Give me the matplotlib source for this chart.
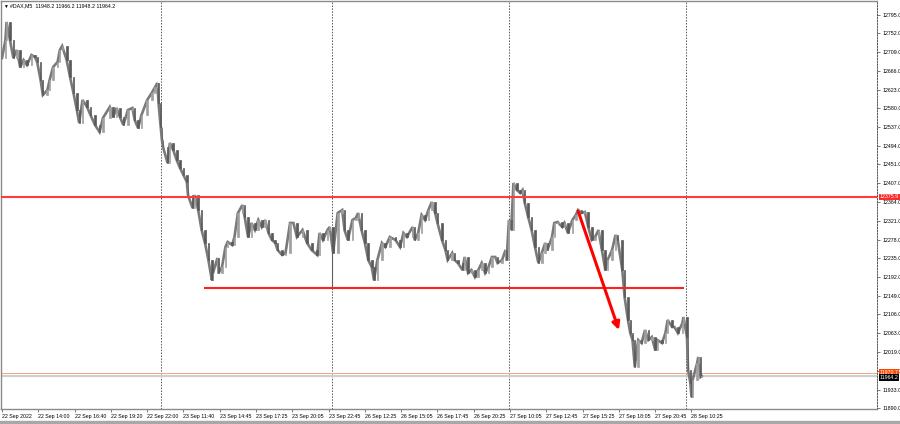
import numpy as np
import matplotlib.pyplot as plt

# M5 bars (bar number from the first bar, price)
sample_bar = [
    0, 3, 4, 7, 10, 13, 16, 19, 22, 26, 29, 31, 34, 36, 40, 42, 45, 49, 51, 53,
    57, 60, 63, 66, 68, 71, 75, 78, 82, 86, 89, 95, 98, 101, 104, 107, 111, 115, 117, 120,
    123, 128, 132, 135, 137, 138, 140, 141, 142, 146, 148, 151, 154, 157, 160, 163, 164, 168, 170, 173,
    176, 179, 182, 185, 186, 190, 191, 194, 197, 199, 203, 205, 208, 212, 214, 217, 220, 223, 226, 229,
    232, 235, 238, 241, 243, 247, 250, 254, 257, 260, 265, 269, 273, 278, 280, 283, 287, 289, 292, 296,
    300, 302, 305, 309, 312, 314, 317, 320, 323, 326, 328, 331, 335, 338, 342, 347, 351, 354, 357, 362,
    364, 367, 370, 373, 376, 379, 382, 384, 388, 391, 393, 397, 399, 402, 406, 408, 411, 414, 417, 420,
    423, 426, 429, 432, 435, 437, 441, 444, 445, 447, 449, 451, 454, 457, 459, 461, 464, 467, 470, 473,
    476, 479, 481, 485, 487, 490, 494, 496, 499, 503, 506, 508, 511, 514, 517, 520, 523, 526, 529, 532,
    534, 538, 541, 543, 547, 549, 552, 554, 556, 558, 561, 564, 567, 570, 573, 576, 578, 582, 585, 587,
    591, 593, 596, 600, 601, 604, 605, 607, 608, 609, 613, 614, 616, 617,
]
sample_price = [
    12695.4, 12736.8, 12778.2, 12736.8, 12695.4, 12713.8, 12674.7, 12690.8, 12679.3, 12702.3,
    12697.7, 12686.2, 12644.9, 12610.4, 12621.9, 12644.9, 12674.7, 12686.2, 12713.8, 12723.0,
    12690.8, 12651.8, 12615.0, 12575.9, 12546.0, 12598.9, 12582.8, 12564.4, 12541.4, 12525.3,
    12557.5, 12582.8, 12559.8, 12580.5, 12559.8, 12541.4, 12575.9, 12580.5, 12552.9, 12534.5,
    12564.4, 12598.9, 12615.0, 12628.8, 12638.0, 12592.0, 12536.8, 12506.9, 12490.8, 12454.0,
    12500.0, 12483.9, 12460.9, 12442.5, 12426.4, 12410.3, 12380.4, 12350.5, 12380.4, 12345.9,
    12300.0, 12270.1, 12231.0, 12185.0, 12201.1, 12235.6, 12201.1, 12214.9, 12260.9, 12272.4,
    12265.5, 12283.9, 12339.0, 12357.4, 12329.9, 12283.9, 12316.1, 12300.0, 12323.0, 12306.9,
    12323.0, 12293.1, 12277.0, 12270.1, 12254.0, 12242.5, 12247.1, 12316.1, 12316.1, 12283.9,
    12300.0, 12270.1, 12254.0, 12242.5, 12293.1, 12277.0, 12300.0, 12306.9, 12247.1, 12339.0,
    12345.9, 12300.0, 12277.0, 12323.0, 12327.6, 12339.0, 12300.0, 12270.1, 12231.0, 12214.9,
    12185.0, 12231.0, 12270.1, 12260.9, 12283.9, 12277.0, 12260.9, 12293.1, 12283.9, 12306.9,
    12277.0, 12293.1, 12334.5, 12323.0, 12345.9, 12364.3, 12339.0, 12316.1, 12277.0, 12254.0,
    12231.0, 12247.1, 12231.0, 12224.1, 12208.0, 12237.9, 12201.1, 12208.0, 12191.9, 12208.0,
    12224.1, 12201.1, 12214.9, 12237.9, 12237.9, 12224.1, 12231.0, 12254.0, 12231.0, 12323.0,
    12300.0, 12408.0, 12391.9, 12385.0, 12391.9, 12362.0, 12329.8, 12300.0, 12260.9, 12224.1,
    12247.1, 12270.1, 12254.0, 12283.9, 12316.1, 12318.4, 12306.9, 12316.1, 12293.1, 12323.0,
    12334.5, 12345.9, 12339.0, 12341.3, 12306.9, 12277.0, 12283.9, 12300.0, 12254.0, 12208.0,
    12231.0, 12254.0, 12288.5, 12277.0, 12208.0, 12145.9, 12093.0, 12063.1, 12047.0, 11985.0,
    12047.0, 12040.1, 12070.0, 12047.0, 12053.9, 12024.0, 12047.0, 12040.1, 12063.1, 12093.0,
    12076.9, 12076.9, 12063.1, 12086.1, 12099.9, 12053.9, 11978.1, 11948.2, 11916.0, 11955.1,
    11994.2, 12007.9, 11962.0, 11964.2,
]

# long wick at the 26 Sep open
wick_bar = [291]
wick_low = [12168.9]
wick_high = [12306.9]

# time axis labels, one every 32 bars
time_labels = ['22 Sep 2022', '22 Sep 14:00', '22 Sep 16:40', '22 Sep 19:20', '22 Sep 22:00',
               '23 Sep 11:40', '23 Sep 14:45', '23 Sep 17:25', '23 Sep 20:05', '23 Sep 22:45',
               '26 Sep 12:25', '26 Sep 15:05', '26 Sep 17:45', '26 Sep 20:25', '27 Sep 10:05',
               '27 Sep 12:45', '27 Sep 15:25', '27 Sep 18:05', '27 Sep 20:45', '28 Sep 10:25']
day_start_bars = [140, 291, 447, 603]

price_ticks = [12795, 12752, 12709, 12666, 12623, 12580, 12537, 12494, 12451, 12407, 12364,
               12321, 12278, 12235, 12192, 12149, 12106, 12063, 12019, 11976, 11933, 11890]

resistance = 12375.9
support = 12166.6
support_from, support_to = 178, 601
arrow_start = (508, 12343.6)
arrow_end = (544, 12070.0)
bid = 11964.2
ask = 11970.7
header = '#DAX,M5  11948.2 11966.2 11948.2 11964.2'

plt.rcParams['font.family'] = ['Liberation Sans', 'DejaVu Sans']

fig = plt.figure(figsize=(9, 4.24), dpi=100)
ax = fig.add_axes([1 / 900, 15 / 424, 876 / 900, 408 / 424])
ax.set_xlim(-0.9, 771.6)
ax.set_ylim(11888.4, 12826.5)

# price trace: thick line plus narrow candle bodies between readings
bars = np.array(sample_bar, dtype=float)
prices = np.array(sample_price)
prev = prices[:-1]
step = np.diff(prices)
widths = np.minimum(np.diff(bars) * 0.5, 1.6)
colors = np.where(step >= 0, '#a0a0a0', '#5a5a5a')
ax.plot(bars, prices, color='#7a7a7a', lw=1.9, solid_joinstyle='miter', zorder=3)
ax.bar(bars[1:], step, bottom=prev, width=widths, color=colors,
       edgecolor=colors, linewidth=0.5, zorder=3)
ax.vlines(wick_bar, wick_low, wick_high, color='#5e5e5e', lw=0.8, zorder=3)

# day separators
for b in day_start_bars:
    ax.axvline(b, color='#555555', lw=0.7, ls=(0, (1.5, 1.5)), zorder=1)

# bid / ask lines
ax.axhline(bid, color='#cfcfcf', lw=1.6, zorder=1)
ax.axhline(ask, color='#f4a582', lw=0.7, zorder=1)

# levels and arrow
ax.axhline(resistance, color='#ff3b3b', lw=1.5, zorder=4)
ax.hlines(support, support_from, support_to, color='#ff2020', lw=1.5, zorder=4)
ax.annotate('', xy=arrow_end, xytext=arrow_start,
            arrowprops=dict(arrowstyle='-|>', color='#ff0000', lw=2.2,
                            mutation_scale=11, shrinkA=0, shrinkB=0), zorder=5)

# axes
ax.set_xticks(np.arange(len(time_labels)) * 32)
ax.set_xticklabels(time_labels, ha='left', fontsize=3.8)
ax.set_yticks(price_ticks)
ax.set_yticklabels(['%.1f' % p for p in price_ticks], fontsize=3.8)
ax.yaxis.tick_right()
ax.tick_params(axis='x', length=2.5, width=0.5, pad=1, color='#444444')
ax.tick_params(axis='y', length=2.5, width=0.5, pad=1.5, color='#444444')
for s in ['left', 'top', 'bottom']:
    ax.spines[s].set_color('#8a8a8a')
    ax.spines[s].set_linewidth(1.0)
ax.spines['right'].set_color('#555555')
ax.spines['right'].set_linewidth(0.7)
ax.spines['right'].set_linestyle((0, (1.5, 1.5)))

# price boxes on the right scale
box_kw = dict(fontsize=3.8, ha='left', va='center', clip_on=False, zorder=6)
ax.text(1.003, resistance, '%.1f' % resistance, color='white', transform=ax.get_yaxis_transform(),
        bbox=dict(boxstyle='square,pad=0.15', fc='#ff2a2a', ec='none'), **box_kw)
ax.text(1.003, ask + 2, '%.1f' % ask, color='white', transform=ax.get_yaxis_transform(),
        bbox=dict(boxstyle='square,pad=0.15', fc='#ff4500', ec='none'), **box_kw)
ax.text(1.003, bid - 3, '%.1f' % bid, color='white', transform=ax.get_yaxis_transform(),
        bbox=dict(boxstyle='square,pad=0.15', fc='black', ec='none'), **box_kw)

# symbol header
fig.text(3 / 900, 1 - 6 / 424, '\u25bc', fontsize=3.5, va='center', color='black')
fig.text(10 / 900, 1 - 6 / 424, header, fontsize=3.8, va='center', color='black')

# window bottom strip
fig.patches.append(plt.Rectangle((0, 0), 1, 3 / 424, transform=fig.transFigure,
                                 color='#a8a8a8', zorder=0))

fig.savefig('out.png', dpi=100, facecolor='white')
